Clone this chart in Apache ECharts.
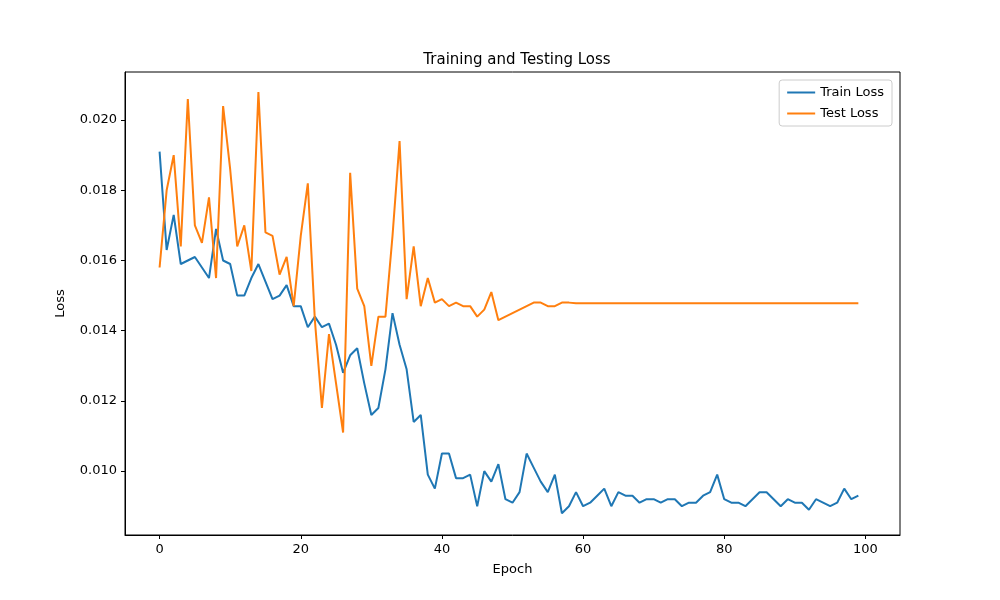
<!DOCTYPE html>
<html><head><meta charset="utf-8">
<script src="https://cdn.jsdelivr.net/npm/echarts@6/dist/echarts.min.js"></script>
<style>html,body{margin:0;background:#fff}#c{width:1000px;height:600px}</style>
</head><body><div id="c"></div>
<script>
// loss per epoch
var trainLoss = [
  .0191,.0163,.0173,.0159,.0160,.0161,.0158,.0155,.0169,.0160,
  .0159,.0150,.0150,.0155,.0159,.0154,.0149,.0150,.0153,.0147,
  .0147,.0141,.0144,.0141,.0142,.0136,.0128,.0133,.0135,.0125,
  .0116,.0118,.0129,.0145,.0136,.0129,.0114,.0116,.0099,.0095,
  .0105,.0105,.0098,.0098,.0099,.0090,.0100,.0097,.0102,.0092,
  .0091,.0094,.0105,.0101,.0097,.0094,.0099,.0088,.0090,.0094,
  .0090,.0091,.0093,.0095,.0090,.0094,.0093,.0093,.0091,.0092,
  .0092,.0091,.0092,.0092,.0090,.0091,.0091,.0093,.0094,.0099,
  .0092,.0091,.0091,.0090,.0092,.0094,.0094,.0092,.0090,.0092,
  .0091,.0091,.0089,.0092,.0091,.0090,.0091,.0095,.0092,.0093
];
var testLoss = [
  .0158,.0180,.0190,.0164,.0206,.0170,.0165,.0178,.0155,.0204,
  .0186,.0164,.0170,.0157,.0208,.0168,.0167,.0156,.0161,.0147,
  .0167,.0182,.0143,.0118,.0139,.0125,.0111,.0185,.0152,.0147,
  .0130,.0144,.0144,.0167,.0194,.0149,.0164,.0147,.0155,.0148,
  .0149,.0147,.0148,.0147,.0147,.0144,.0146,.0151,.0143,.0144,
  .0145,.0146,.0147,.0148,.0148,.0147,.0147,.0148,.0148,.01478,
  .01478,.01478,.01478,.01478,.01478,.01478,.01478,.01478,.01478,.01478,
  .01478,.01478,.01478,.01478,.01478,.01478,.01478,.01478,.01478,.01478,
  .01478,.01478,.01478,.01478,.01478,.01478,.01478,.01478,.01478,.01478,
  .01478,.01478,.01478,.01478,.01478,.01478,.01478,.01478,.01478,.01478
];
var xTicks = [0, 20, 40, 60, 80, 100];
var yTicks = [0.010, 0.012, 0.014, 0.016, 0.018, 0.020];

function pairs(arr) {
  return arr.map(function (v, i) { return [i, v]; });
}

var chart = echarts.init(document.getElementById('c'));
var axisCommon = {
  axisLine: { onZero: false, lineStyle: { color: '#000', width: 1 } },
  axisTick: { inside: false, length: 4, lineStyle: { color: '#000' } },
  axisLabel: { color: '#000', fontSize: 13, fontFamily: 'DejaVu Sans' },
  splitLine: { show: false }
};
chart.setOption({
  animation: false,
  title: { text: 'Training and Testing Loss', left: 512, top: 48, textAlign: 'center',
    textStyle: { fontSize: 15, fontWeight: 'normal', color: '#000', fontFamily: 'DejaVu Sans' } },
  legend: {
    right: 108, top: 80, orient: 'vertical', itemWidth: 28, itemHeight: 2, itemGap: 8,
    padding: [6, 8], borderColor: '#ccc', borderWidth: 1, borderRadius: 3,
    textStyle: { fontSize: 13, color: '#000', fontFamily: 'DejaVu Sans' },
    icon: 'rect'
  },
  grid: { left: 125, right: 100, top: 72, bottom: 65, show: true, borderColor: '#000', borderWidth: 1 },
  xAxis: Object.assign({}, axisCommon, {
    type: 'value', min: -4.9, max: 104.9, name: 'Epoch', nameLocation: 'middle', nameGap: 28,
    nameTextStyle: { fontSize: 13, color: '#000', fontFamily: 'DejaVu Sans' },
    axisTick: Object.assign({}, axisCommon.axisTick, { customValues: xTicks }),
    axisLabel: Object.assign({}, axisCommon.axisLabel, { customValues: xTicks })
  }),
  yAxis: Object.assign({}, axisCommon, {
    type: 'value', min: 0.00818, max: 0.02137, name: 'Loss', nameLocation: 'middle', nameGap: 58,
    nameTextStyle: { fontSize: 13, color: '#000', fontFamily: 'DejaVu Sans' },
    axisTick: Object.assign({}, axisCommon.axisTick, { customValues: yTicks }),
    axisLabel: Object.assign({}, axisCommon.axisLabel, { customValues: yTicks,
      formatter: function (v) { return v.toFixed(3); } })
  }),
  series: [
    { name: 'Train Loss', type: 'line', data: pairs(trainLoss), showSymbol: false,
      lineStyle: { color: '#1f77b4', width: 2 }, itemStyle: { color: '#1f77b4' } },
    { name: 'Test Loss', type: 'line', data: pairs(testLoss), showSymbol: false,
      lineStyle: { color: '#ff7f0e', width: 2 }, itemStyle: { color: '#ff7f0e' } }
  ]
});
</script>
</body></html>
